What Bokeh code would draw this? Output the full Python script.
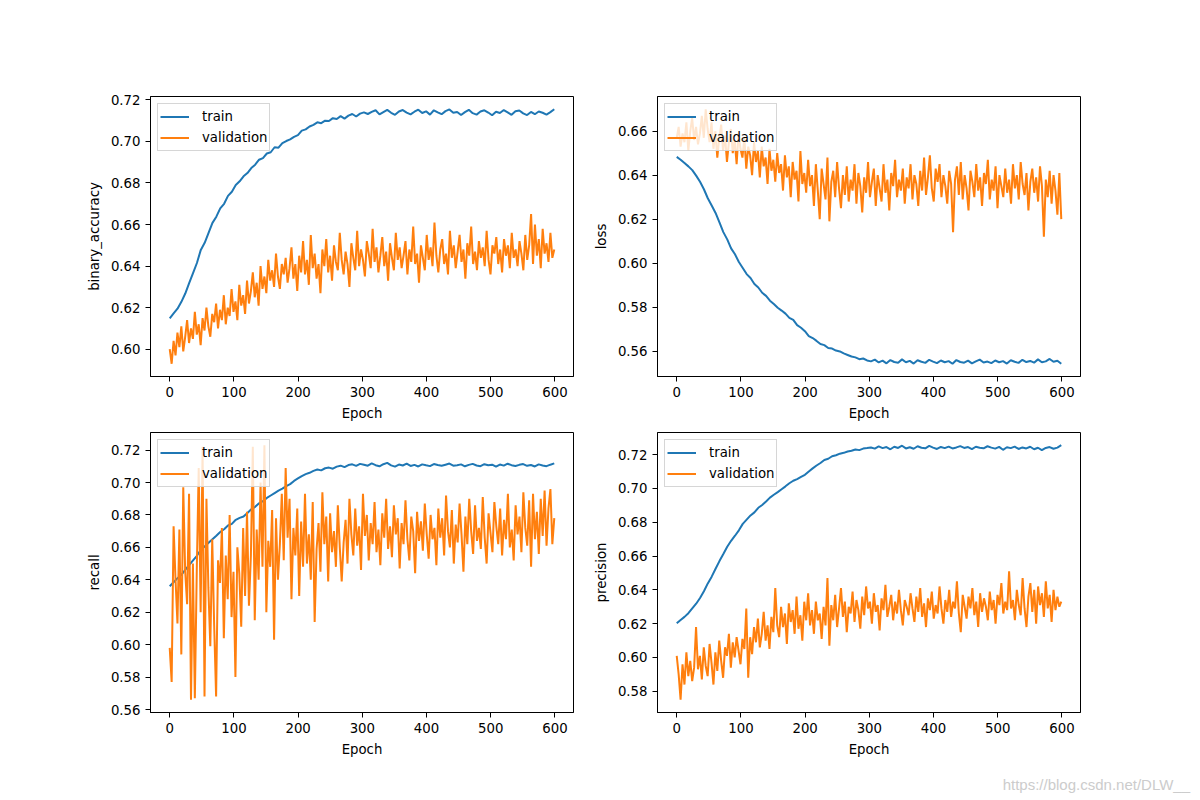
import numpy as np
from bokeh.plotting import figure
from bokeh.layouts import column, row
from bokeh.models import Range1d, FixedTicker, PrintfTickFormatter, Div
from bokeh.embed import file_html
from bokeh.resources import INLINE

# ---------------- data ----------------
EPOCH_FIRST = 0
EPOCH_LAST = 599

train_binary_accuracy = [
    0.6148, 0.6172, 0.6195, 0.6228, 0.6268, 0.6318, 0.6366, 0.6415, 0.6478, 0.6512,
    0.6560, 0.6608, 0.6638, 0.6678, 0.6700, 0.6738, 0.6758, 0.6790, 0.6808, 0.6832,
    0.6848, 0.6872, 0.6888, 0.6912, 0.6920, 0.6942, 0.6948, 0.6972, 0.6970, 0.6992,
    0.7002, 0.7010, 0.7022, 0.7030, 0.7052, 0.7058, 0.7072, 0.7080, 0.7092, 0.7088,
    0.7100, 0.7098, 0.7112, 0.7108, 0.7122, 0.7110, 0.7124, 0.7132, 0.7120, 0.7134,
    0.7140,
    0.7132, 0.7142, 0.7150, 0.7130, 0.7141, 0.7152, 0.7138, 0.7128, 0.7144, 0.7151,
    0.7139, 0.7130, 0.7143, 0.7153, 0.7137, 0.7145, 0.7129, 0.7150, 0.7140, 0.7131,
    0.7146, 0.7154, 0.7138, 0.7142, 0.7127, 0.7141, 0.7152, 0.7136, 0.7129, 0.7144,
    0.7150, 0.7139, 0.7126, 0.7143, 0.7137, 0.7151, 0.7140, 0.7128, 0.7145, 0.7149,
    0.7135, 0.7127, 0.7142, 0.7131, 0.7144, 0.7138, 0.7129, 0.7141, 0.7155,
]
val_binary_accuracy = [
    0.600, 0.593, 0.604, 0.597, 0.608, 0.601, 0.611, 0.599, 0.606, 0.614,
    0.603, 0.610, 0.605, 0.618, 0.607, 0.612, 0.602, 0.615, 0.609, 0.620,
    0.611, 0.606, 0.617, 0.613, 0.622, 0.610, 0.619, 0.614, 0.626, 0.612,
    0.620, 0.616, 0.629, 0.618, 0.623, 0.614, 0.631, 0.621, 0.626, 0.617,
    0.633, 0.622, 0.628, 0.637, 0.625, 0.632, 0.621, 0.640, 0.629, 0.635,
    0.627, 0.643, 0.633, 0.638, 0.630, 0.646, 0.635, 0.629, 0.641, 0.636,
    0.644, 0.632, 0.639, 0.649, 0.634, 0.641, 0.628, 0.645, 0.637, 0.652,
    0.636, 0.643, 0.631, 0.655, 0.639, 0.646, 0.634, 0.641, 0.627, 0.648,
    0.640, 0.653, 0.637, 0.645, 0.633, 0.650, 0.642, 0.638, 0.656, 0.643,
    0.636, 0.647, 0.641, 0.630, 0.651, 0.644, 0.638, 0.657, 0.640, 0.648,
    0.643, 0.635, 0.652, 0.646, 0.639, 0.658, 0.642, 0.649, 0.637, 0.645,
    0.654, 0.640, 0.647, 0.633, 0.651, 0.644, 0.638, 0.656, 0.643, 0.649,
    0.639, 0.645, 0.652, 0.636, 0.648, 0.642, 0.659, 0.641, 0.646, 0.632,
    0.650, 0.644, 0.638, 0.655, 0.643, 0.649, 0.640, 0.661, 0.645, 0.637,
    0.648, 0.653, 0.641, 0.646, 0.636, 0.657, 0.644, 0.650, 0.639, 0.647,
    0.655, 0.642, 0.648, 0.634, 0.651, 0.645, 0.659, 0.641, 0.647, 0.638,
    0.652, 0.644, 0.649, 0.640, 0.657, 0.643, 0.636, 0.650, 0.646, 0.654,
    0.641, 0.648, 0.637, 0.653, 0.645, 0.650, 0.639, 0.656, 0.644, 0.648,
    0.640, 0.652, 0.646, 0.638, 0.655, 0.643, 0.650, 0.665, 0.641, 0.660,
    0.645, 0.653, 0.639, 0.658, 0.646, 0.651, 0.642, 0.656, 0.644, 0.648,
]

train_loss = [
    0.6483, 0.6470, 0.6455, 0.6440, 0.6423, 0.6398, 0.6370, 0.6336, 0.6295, 0.6262,
    0.6228, 0.6185, 0.6141, 0.6108, 0.6067, 0.6040, 0.6005, 0.5978, 0.5950, 0.5932,
    0.5905, 0.5889, 0.5865, 0.5851, 0.5829, 0.5814, 0.5797, 0.5784, 0.5770, 0.5751,
    0.5742, 0.5718, 0.5706, 0.5690, 0.5668, 0.5659, 0.5646, 0.5632, 0.5627, 0.5614,
    0.5611, 0.5602, 0.5598, 0.5589, 0.5582, 0.5575, 0.5571, 0.5563, 0.5566, 0.5557,
    0.5553, 0.5561, 0.5548, 0.5556, 0.5544, 0.5559, 0.5550, 0.5547, 0.5562, 0.5549,
    0.5555, 0.5543, 0.5558, 0.5551, 0.5546, 0.5560, 0.5552, 0.5545, 0.5557, 0.5549,
    0.5554, 0.5542, 0.5559, 0.5550, 0.5547, 0.5556, 0.5544, 0.5553, 0.5561, 0.5548,
    0.5552, 0.5545, 0.5557, 0.5549, 0.5554, 0.5543, 0.5558, 0.5551, 0.5546, 0.5560,
    0.5550, 0.5555, 0.5547, 0.5562, 0.5549, 0.5553, 0.5564, 0.5551, 0.5556, 0.5542,
]
val_loss = [
    0.657, 0.662, 0.653, 0.659, 0.655, 0.664, 0.651, 0.660, 0.666, 0.656,
    0.662, 0.654, 0.659, 0.667, 0.657, 0.670, 0.661, 0.655, 0.664, 0.652,
    0.660, 0.648, 0.657, 0.663, 0.651, 0.658, 0.646, 0.655, 0.661, 0.650,
    0.656, 0.645, 0.659, 0.652, 0.648, 0.657, 0.643, 0.653, 0.649, 0.640,
    0.655, 0.646, 0.651, 0.639, 0.653, 0.644, 0.648, 0.636, 0.652, 0.642,
    0.647, 0.637, 0.650, 0.641, 0.645, 0.633, 0.649, 0.639, 0.644, 0.630,
    0.646, 0.638, 0.642, 0.628, 0.651, 0.636, 0.641, 0.632, 0.647, 0.635,
    0.640, 0.626, 0.645, 0.633, 0.620, 0.643, 0.636, 0.629, 0.648, 0.619,
    0.637, 0.642, 0.630, 0.646, 0.634, 0.625, 0.640, 0.631, 0.644, 0.628,
    0.638, 0.633, 0.645, 0.627, 0.641, 0.635, 0.623, 0.639, 0.632, 0.646,
    0.630, 0.637, 0.643, 0.626, 0.640, 0.634, 0.628, 0.645, 0.632, 0.638,
    0.624, 0.641, 0.635, 0.647, 0.630, 0.638, 0.633, 0.643, 0.627, 0.639,
    0.634, 0.645, 0.629, 0.640, 0.636, 0.626, 0.642, 0.633, 0.648, 0.631,
    0.639, 0.649, 0.634, 0.628, 0.643, 0.637, 0.645, 0.630, 0.640, 0.635,
    0.627, 0.642, 0.636, 0.614, 0.638, 0.644, 0.631, 0.646, 0.629, 0.640,
    0.634, 0.624, 0.642, 0.637, 0.630, 0.645, 0.633, 0.639, 0.626, 0.641,
    0.636, 0.647, 0.629, 0.638, 0.633, 0.644, 0.625, 0.640, 0.635, 0.630,
    0.643, 0.632, 0.638, 0.627, 0.645, 0.634, 0.640, 0.629, 0.646, 0.636,
    0.631, 0.641, 0.624, 0.637, 0.643, 0.632, 0.639, 0.628, 0.644, 0.635,
    0.612, 0.638, 0.630, 0.642, 0.627, 0.640, 0.633, 0.622, 0.641, 0.620,
]

train_recall = [
    0.6360, 0.6385, 0.6410, 0.6430, 0.6462, 0.6490, 0.6520, 0.6548, 0.6585, 0.6605,
    0.6628, 0.6650, 0.6672, 0.6695, 0.6712, 0.6735, 0.6745, 0.6770, 0.6782, 0.6790,
    0.6812, 0.6835, 0.6850, 0.6872, 0.6885, 0.6905, 0.6920, 0.6935, 0.6950, 0.6962,
    0.6978, 0.6990, 0.7010, 0.7025, 0.7040, 0.7052, 0.7060, 0.7072, 0.7080, 0.7075,
    0.7088, 0.7092, 0.7085, 0.7098, 0.7104, 0.7095, 0.7108, 0.7112, 0.7103, 0.7115,
    0.7110, 0.7104, 0.7118, 0.7107, 0.7100, 0.7113, 0.7121, 0.7106, 0.7098, 0.7111,
    0.7105, 0.7116, 0.7102, 0.7109, 0.7099, 0.7112, 0.7106, 0.7101, 0.7114, 0.7108,
    0.7103, 0.7110, 0.7117, 0.7104, 0.7107, 0.7112, 0.7100, 0.7109, 0.7115, 0.7105,
    0.7101, 0.7113, 0.7106, 0.7110, 0.7098, 0.7111, 0.7104, 0.7116, 0.7107, 0.7102,
    0.7109, 0.7114, 0.7103, 0.7108, 0.7099, 0.7112, 0.7105, 0.7101, 0.7110, 0.7118,
]
val_recall = [
    0.598, 0.577, 0.673, 0.640, 0.613, 0.671, 0.594, 0.697, 0.645, 0.625,
    0.693, 0.566, 0.650, 0.567, 0.646, 0.709, 0.620, 0.722, 0.568, 0.690,
    0.635, 0.599, 0.665, 0.612, 0.568, 0.652, 0.638, 0.672, 0.604, 0.655,
    0.628, 0.680, 0.617, 0.645, 0.580, 0.660, 0.644, 0.611, 0.672, 0.630,
    0.682, 0.624, 0.655, 0.722, 0.615, 0.671, 0.640, 0.700, 0.648, 0.723,
    0.620, 0.664, 0.648, 0.683, 0.603, 0.678, 0.640, 0.662, 0.693, 0.652,
    0.709, 0.666, 0.690, 0.628, 0.672, 0.655, 0.684, 0.630, 0.676, 0.648,
    0.693, 0.650, 0.668, 0.640, 0.688, 0.614, 0.659, 0.675, 0.645, 0.694,
    0.662, 0.679, 0.639, 0.681, 0.657, 0.670, 0.648, 0.686, 0.660, 0.639,
    0.663, 0.677, 0.650, 0.690, 0.668, 0.655, 0.684, 0.661, 0.673, 0.646,
    0.693, 0.667, 0.680, 0.652, 0.675, 0.662, 0.688, 0.657, 0.671, 0.649,
    0.681, 0.666, 0.690, 0.659, 0.673, 0.654, 0.686, 0.668, 0.678, 0.647,
    0.675, 0.662, 0.689, 0.665, 0.652, 0.679, 0.670, 0.644, 0.682, 0.664,
    0.676, 0.658, 0.687, 0.668, 0.653, 0.680, 0.665, 0.672, 0.649, 0.684,
    0.666, 0.678, 0.655, 0.692, 0.670, 0.660, 0.683, 0.650, 0.674, 0.663,
    0.687, 0.668, 0.645, 0.679, 0.662, 0.690, 0.670, 0.656, 0.686, 0.664,
    0.672, 0.659, 0.691, 0.666, 0.650, 0.681, 0.669, 0.657, 0.688, 0.673,
    0.662, 0.684, 0.655, 0.677, 0.665, 0.693, 0.660, 0.671, 0.652, 0.686,
    0.668, 0.679, 0.657, 0.694, 0.672, 0.661, 0.689, 0.648, 0.693, 0.665,
    0.682, 0.656, 0.690, 0.667, 0.695, 0.661, 0.684, 0.696, 0.662, 0.678,
]

train_precision = [
    0.6202, 0.6222, 0.6240, 0.6262, 0.6290, 0.6318, 0.6352, 0.6392, 0.6438, 0.6478,
    0.6525, 0.6570, 0.6612, 0.6655, 0.6690, 0.6720, 0.6752, 0.6790, 0.6815, 0.6840,
    0.6858, 0.6885, 0.6902, 0.6922, 0.6945, 0.6962, 0.6978, 0.6995, 0.7012, 0.7030,
    0.7045, 0.7055, 0.7068, 0.7080, 0.7100, 0.7118, 0.7135, 0.7150, 0.7168, 0.7175,
    0.7190, 0.7196, 0.7205, 0.7210, 0.7218, 0.7222, 0.7230, 0.7226, 0.7235, 0.7238,
    0.7242, 0.7235, 0.7248, 0.7238, 0.7244, 0.7231, 0.7246, 0.7239, 0.7252, 0.7236,
    0.7243, 0.7234, 0.7249, 0.7240, 0.7237, 0.7251, 0.7241, 0.7233, 0.7245, 0.7238,
    0.7247, 0.7236, 0.7242, 0.7250, 0.7239, 0.7244, 0.7232, 0.7246, 0.7240, 0.7237,
    0.7249, 0.7241, 0.7235, 0.7245, 0.7228, 0.7243, 0.7238, 0.7247, 0.7233, 0.7242,
    0.7236, 0.7246, 0.7231, 0.7240, 0.7226, 0.7239, 0.7244, 0.7234, 0.7241, 0.7255,
]
val_precision = [
    0.601, 0.590, 0.575, 0.596, 0.584, 0.603, 0.589, 0.598, 0.586, 0.594,
    0.618, 0.593, 0.601, 0.587, 0.606, 0.595, 0.589, 0.608, 0.597, 0.584,
    0.603, 0.592, 0.610, 0.598, 0.588, 0.606, 0.601, 0.614, 0.594, 0.609,
    0.600, 0.612, 0.604, 0.596, 0.611, 0.605, 0.629, 0.588, 0.612, 0.602,
    0.618, 0.609, 0.623, 0.606, 0.614, 0.627, 0.610, 0.619, 0.605, 0.624,
    0.615, 0.641, 0.619, 0.612, 0.630, 0.618, 0.626, 0.608, 0.632, 0.621,
    0.628, 0.614, 0.636, 0.617, 0.625, 0.610, 0.633, 0.622, 0.638, 0.619,
    0.628, 0.614, 0.633, 0.622, 0.626, 0.611, 0.630, 0.619, 0.647, 0.607,
    0.631, 0.622, 0.637, 0.618, 0.629, 0.641, 0.624, 0.633, 0.615, 0.630,
    0.626, 0.639, 0.621, 0.634, 0.628, 0.617, 0.636, 0.625, 0.642, 0.629,
    0.633, 0.620, 0.638, 0.627, 0.631, 0.616, 0.635, 0.628, 0.643, 0.624,
    0.630, 0.637, 0.622, 0.633, 0.626, 0.640, 0.628, 0.619, 0.634, 0.630,
    0.625, 0.638, 0.629, 0.621, 0.636, 0.627, 0.641, 0.624, 0.632, 0.618,
    0.635, 0.628, 0.639, 0.623, 0.631, 0.626, 0.642, 0.629, 0.620, 0.634,
    0.627, 0.640, 0.624, 0.633, 0.629, 0.645, 0.626, 0.615, 0.637, 0.630,
    0.623, 0.636, 0.629, 0.641, 0.625, 0.633, 0.618, 0.638, 0.627, 0.635,
    0.630, 0.622, 0.639, 0.628, 0.634, 0.620, 0.637, 0.631, 0.644, 0.626,
    0.633, 0.628, 0.651, 0.629, 0.634, 0.622, 0.640, 0.631, 0.625, 0.647,
    0.629, 0.618, 0.636, 0.644, 0.627, 0.640, 0.620, 0.642, 0.631, 0.638,
    0.624, 0.645, 0.629, 0.637, 0.621, 0.640, 0.628, 0.636, 0.630, 0.633,
]

x_tick_values = [0, 100, 200, 300, 400, 500, 600]
y_tick_values = [0.54, 0.56, 0.58, 0.60, 0.62, 0.64, 0.66, 0.68, 0.70, 0.72, 0.74]
legend_labels = ["train", "validation"]
x_label = "Epoch"
watermark = "https://blog.csdn.net/DLW__"

# ---------------- styling ----------------
FONT = "DejaVu Sans"
FS = "13.3px"
C_TRAIN = "#1f77b4"
C_VAL = "#ff7f0e"


def make_panel(train, val, ylabel, width, height, bl, br, bt, bb):
    xpad = 0.05 * (EPOCH_LAST - EPOCH_FIRST)
    allv = list(train) + list(val)
    lo, hi = min(allv), max(allv)
    ypad = 0.05 * (hi - lo)
    p = figure(
        width=width, height=height,
        output_backend="svg", toolbar_location=None,
        x_range=Range1d(EPOCH_FIRST - xpad, EPOCH_LAST + xpad),
        y_range=Range1d(lo - ypad, hi + ypad),
        min_border_left=bl, min_border_right=br,
        min_border_top=bt, min_border_bottom=bb,
        background_fill_color="white", border_fill_color="white",
    )
    xt = np.linspace(EPOCH_FIRST, EPOCH_LAST, len(train))
    xv = np.linspace(EPOCH_FIRST, EPOCH_LAST, len(val))
    p.line(xt, train, line_color=C_TRAIN, line_width=2, legend_label=legend_labels[0])
    p.line(xv, val, line_color=C_VAL, line_width=2, legend_label=legend_labels[1])

    p.xgrid.grid_line_color = None
    p.ygrid.grid_line_color = None
    p.outline_line_color = "black"
    p.outline_line_width = 1
    p.outline_line_alpha = 1

    p.xaxis.ticker = FixedTicker(ticks=x_tick_values)
    p.yaxis.ticker = FixedTicker(ticks=y_tick_values)
    p.yaxis.formatter = PrintfTickFormatter(format="%.2f")
    p.xaxis.axis_label = x_label
    p.yaxis.axis_label = ylabel
    for ax in (p.xaxis, p.yaxis):
        ax.axis_line_color = "black"
        ax.axis_line_width = 1
        ax.major_tick_line_color = "black"
        ax.major_tick_line_width = 1
        ax.major_tick_out = 5
        ax.major_tick_in = 0
        ax.minor_tick_line_color = None
        ax.major_label_text_font = FONT
        ax.major_label_text_font_size = FS
        ax.major_label_text_color = "black"
        ax.major_label_standoff = 5
        ax.axis_label_text_font = FONT
        ax.axis_label_text_font_size = FS
        ax.axis_label_text_font_style = "normal"
        ax.axis_label_text_color = "black"
        ax.axis_label_standoff = 6

    lg = p.legend[0]
    lg.location = "top_left"
    lg.margin = 7
    lg.padding = 2
    lg.spacing = 0
    lg.glyph_width = 29
    lg.glyph_height = 21
    lg.label_height = 21
    lg.label_standoff = 13
    lg.label_text_font = FONT
    lg.label_text_font_size = FS
    lg.label_text_color = "black"
    lg.border_line_color = "#cccccc"
    lg.border_line_alpha = 0.8
    lg.border_line_width = 1
    lg.background_fill_color = "white"
    lg.background_fill_alpha = 0.8
    return p


pA = make_panel(train_binary_accuracy, val_binary_accuracy, "binary_accuracy", 590, 426, 150, 17, 96, 50)
pB = make_panel(train_loss, val_loss, "loss", 602, 426, 67, 112, 96, 50)
pC = make_panel(train_recall, val_recall, "recall", 590, 350, 150, 17, 6, 64)
pD = make_panel(train_precision, val_precision, "precision", 602, 350, 67, 112, 6, 64)

note = Div(
    text=watermark, width=1190, height=24, margin=0,
    styles={"color": "#cccccc", "font-family": "Liberation Sans, Arial, sans-serif",
            "font-size": "15px", "text-align": "right", "line-height": "17px"},
)

layout = column(row(pA, pB), row(pC, pD), note)
open("out.html", "w").write(file_html(layout, INLINE))
